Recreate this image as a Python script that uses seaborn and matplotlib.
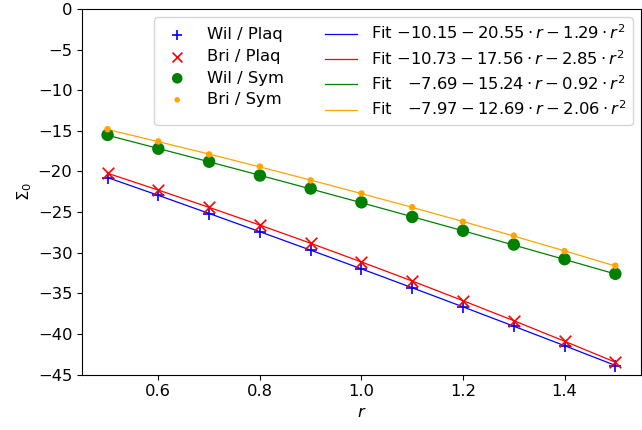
import numpy as np
import pandas as pd
import matplotlib
matplotlib.use("Agg")
import matplotlib.pyplot as plt
import seaborn as sns

plt.rcParams["font.size"] = 11.8

# lattice spacing values
r = [0.5, 0.6, 0.7, 0.8, 0.9, 1.0, 1.1, 1.2, 1.3, 1.4, 1.5]

wil_plaq = [-20.8, -22.9, -25.2, -27.4, -29.7, -32.0, -34.3, -36.7, -39.0, -41.5, -43.9]
bri_plaq = [-20.2, -22.3, -24.4, -26.6, -28.8, -31.1, -33.5, -35.9, -38.4, -40.9, -43.5]
wil_sym = [-15.5, -17.2, -18.8, -20.5, -22.1, -23.8, -25.6, -27.3, -29.0, -30.8, -32.6]
bri_sym = [-14.8, -16.3, -17.9, -19.4, -21.1, -22.7, -24.4, -26.2, -27.9, -29.8, -31.6]

# fitted curves at the same r values
fit_wil_plaq = [-20.75, -22.94, -25.17, -27.42, -29.69, -31.99, -34.32, -36.67, -39.05, -41.45, -43.88]
fit_bri_plaq = [-20.22, -22.29, -24.42, -26.60, -28.84, -31.14, -33.49, -35.91, -38.37, -40.90, -43.48]
fit_wil_sym = [-15.54, -17.17, -18.81, -20.47, -22.15, -23.85, -25.57, -27.30, -29.06, -30.83, -32.62]
fit_bri_sym = [-14.83, -16.33, -17.86, -19.44, -21.06, -22.72, -24.42, -26.16, -27.95, -29.77, -31.64]

names = ["Wil / Plaq", "Bri / Plaq", "Wil / Sym", "Bri / Sym"]
fit_labels = [
    r"Fit $-10.15 - 20.55 \cdot r - 1.29 \cdot r^2$",
    r"Fit $-10.73 - 17.56 \cdot r - 2.85 \cdot r^2$",
    r"Fit   $-7.69 - 15.24 \cdot r - 0.92 \cdot r^2$",
    r"Fit   $-7.97 - 12.69 \cdot r - 2.06 \cdot r^2$",
]
colors = ["blue", "red", "green", "orange"]
markers = ["+", "x", "o", "o"]
sizes = [70, 70, 80, 22]

points = [wil_plaq, bri_plaq, wil_sym, bri_sym]
fits = [fit_wil_plaq, fit_bri_plaq, fit_wil_sym, fit_bri_sym]

fig, ax = plt.subplots(figsize=(6.42, 4.30), dpi=100)

for name, y, c, m, s in zip(names, points, colors, markers, sizes):
    df = pd.DataFrame({"r": r, "sigma": y})
    if m in ["+", "x"]:
        sns.scatterplot(data=df, x="r", y="sigma", ax=ax, marker=m, color=c,
                        s=s, linewidth=1.2, label=name, zorder=3)
    else:
        sns.scatterplot(data=df, x="r", y="sigma", ax=ax, marker=m, color=c,
                        s=s, edgecolor="none", label=name, zorder=3)

for lab, y, c in zip(fit_labels, fits, colors):
    df = pd.DataFrame({"r": r, "sigma": y})
    sns.lineplot(data=df, x="r", y="sigma", ax=ax, color=c, linewidth=0.9, label=lab)

ax.set_ylim(-45, 0)
ax.set_xticks([0.6, 0.8, 1.0, 1.2, 1.4])
ax.set_xlabel("$r$")
ax.set_ylabel(r"$\Sigma_0$", labelpad=3)

handles, labels = ax.get_legend_handles_labels()
order = [labels.index(n) for n in names] + [labels.index(f) for f in fit_labels]
ax.legend([handles[i] for i in order], [labels[i] for i in order], ncol=2,
          loc="upper right", columnspacing=2.5, labelspacing=0.4, markerscale=0.85)

plt.subplots_adjust(left=0.128, right=0.998, top=0.979, bottom=0.129)
plt.savefig("out.png", dpi=100)
